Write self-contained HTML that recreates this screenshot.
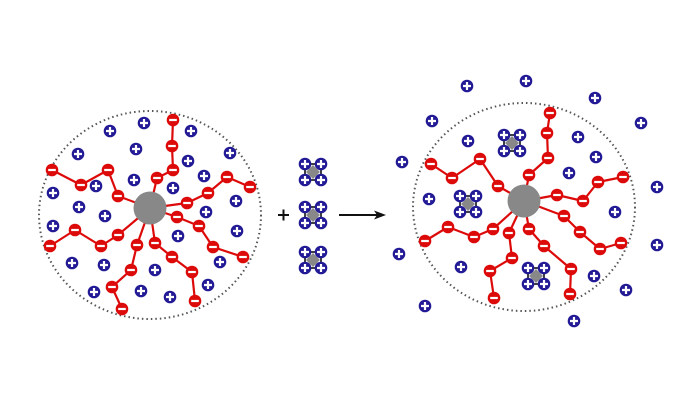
<!DOCTYPE html>
<html><head><meta charset="utf-8"><style>html,body{margin:0;padding:0;background:#fff}svg{display:block}</style></head>
<body>
<svg width="700" height="400" viewBox="0 0 700 400" xmlns="http://www.w3.org/2000/svg">
<defs>
<g id="p"><circle r="6.3" fill="#231a96"/><path d="M-4 0H4M0 -4V4" stroke="#fff" stroke-width="2.2"/></g>
<g id="m"><circle r="6.3" fill="#dd0a0a"/><path d="M-3.8 0H3.8" stroke="#fff" stroke-width="2.2"/></g>
<g id="c"><path d="M0 -7L7 0L0 7L-7 0Z" fill="#888"/><rect x="-8" y="-8" width="16" height="16" fill="none" stroke="#000" stroke-width="1.5"/>
<use href="#p" x="-8" y="-8"/><use href="#p" x="8" y="-8"/><use href="#p" x="-8" y="8"/><use href="#p" x="8" y="8"/></g>
</defs>
<!-- left micelle -->
<ellipse cx="150" cy="215" rx="111" ry="104" fill="none" stroke="#555" stroke-width="2" stroke-dasharray="1.5 3"/>
<g fill="none" stroke="#dd0a0a" stroke-width="2.2" stroke-linejoin="round">
<polyline points="150,208 157,178 173,170 172,146 173,120"/>
<polyline points="150,208 118,196 108,170 81,185 52,170"/>
<polyline points="150,208 187,203 208,193 227,177 250,187"/>
<polyline points="150,208 177,217 199,226 213,247 243,257"/>
<polyline points="150,208 155,243 172,257 192,272 195,301"/>
<polyline points="150,208 137,245 131,270 112,287 122,309"/>
<polyline points="150,208 118,235 101,246 75,230 50,246"/>
</g>
<circle cx="150" cy="208" r="16.5" fill="#888"/>
<g>
<use href="#m" x="157" y="178"/><use href="#m" x="173" y="170"/><use href="#m" x="172" y="146"/><use href="#m" x="173" y="120"/>
<use href="#m" x="118" y="196"/><use href="#m" x="108" y="170"/><use href="#m" x="81" y="185"/><use href="#m" x="52" y="170"/>
<use href="#m" x="187" y="203"/><use href="#m" x="208" y="193"/><use href="#m" x="227" y="177"/><use href="#m" x="250" y="187"/>
<use href="#m" x="177" y="217"/><use href="#m" x="199" y="226"/><use href="#m" x="213" y="247"/><use href="#m" x="243" y="257"/>
<use href="#m" x="155" y="243"/><use href="#m" x="172" y="257"/><use href="#m" x="192" y="272"/><use href="#m" x="195" y="301"/>
<use href="#m" x="137" y="245"/><use href="#m" x="131" y="270"/><use href="#m" x="112" y="287"/><use href="#m" x="122" y="309"/>
<use href="#m" x="118" y="235"/><use href="#m" x="101" y="246"/><use href="#m" x="75" y="230"/><use href="#m" x="50" y="246"/>
</g>
<g>
<use href="#p" x="110" y="131"/><use href="#p" x="144" y="123"/><use href="#p" x="78" y="154"/><use href="#p" x="136" y="149"/>
<use href="#p" x="191" y="131"/><use href="#p" x="230" y="153"/><use href="#p" x="188" y="161"/><use href="#p" x="96" y="186"/>
<use href="#p" x="53" y="193"/><use href="#p" x="79" y="207"/><use href="#p" x="105" y="216"/><use href="#p" x="134" y="180"/>
<use href="#p" x="173" y="188"/><use href="#p" x="204" y="176"/><use href="#p" x="206" y="212"/><use href="#p" x="236" y="201"/>
<use href="#p" x="53" y="226"/><use href="#p" x="178" y="236"/><use href="#p" x="237" y="231"/><use href="#p" x="72" y="263"/>
<use href="#p" x="104" y="265"/><use href="#p" x="155" y="270"/><use href="#p" x="220" y="262"/><use href="#p" x="94" y="292"/>
<use href="#p" x="141" y="291"/><use href="#p" x="170" y="297"/><use href="#p" x="208" y="285"/>
</g>
<!-- middle -->
<use href="#c" x="313" y="172"/><use href="#c" x="313" y="215"/><use href="#c" x="313" y="260"/>
<path d="M278 215H289M283.5 209.5V220.5" stroke="#111" stroke-width="2"/>
<path d="M339 215H378" stroke="#111" stroke-width="2"/>
<path d="M386 215L374 210.5L377 215L374 219.5Z" fill="#111"/>
<!-- right micelle -->
<ellipse cx="524" cy="207" rx="111" ry="104" fill="none" stroke="#555" stroke-width="2" stroke-dasharray="1.5 3"/>
<g fill="none" stroke="#dd0a0a" stroke-width="2.2" stroke-linejoin="round">
<polyline points="524,201 529,175 548,158 547,133 550,113"/>
<polyline points="524,201 498,186 480,159 452,178 431,164"/>
<polyline points="524,201 557,195 583,201 598,182 623,177"/>
<polyline points="524,201 564,216 580,232 600,249 621,243"/>
<polyline points="524,201 529,229 544,246 571,269 570,294"/>
<polyline points="524,201 509,233 512,258 490,271 494,298"/>
<polyline points="524,201 493,229 474,237 448,227 425,241"/>
</g>
<circle cx="524" cy="201" r="16.5" fill="#888"/>
<g>
<use href="#m" x="529" y="175"/><use href="#m" x="548" y="158"/><use href="#m" x="547" y="133"/><use href="#m" x="550" y="113"/>
<use href="#m" x="498" y="186"/><use href="#m" x="480" y="159"/><use href="#m" x="452" y="178"/><use href="#m" x="431" y="164"/>
<use href="#m" x="557" y="195"/><use href="#m" x="583" y="201"/><use href="#m" x="598" y="182"/><use href="#m" x="623" y="177"/>
<use href="#m" x="564" y="216"/><use href="#m" x="580" y="232"/><use href="#m" x="600" y="249"/><use href="#m" x="621" y="243"/>
<use href="#m" x="529" y="229"/><use href="#m" x="544" y="246"/><use href="#m" x="571" y="269"/><use href="#m" x="570" y="294"/>
<use href="#m" x="509" y="233"/><use href="#m" x="512" y="258"/><use href="#m" x="490" y="271"/><use href="#m" x="494" y="298"/>
<use href="#m" x="493" y="229"/><use href="#m" x="474" y="237"/><use href="#m" x="448" y="227"/><use href="#m" x="425" y="241"/>
</g>
<use href="#c" x="512" y="143"/><use href="#c" x="468" y="204"/><use href="#c" x="536" y="276"/>
<g>
<use href="#p" x="467" y="86"/><use href="#p" x="526" y="81"/><use href="#p" x="595" y="98"/><use href="#p" x="432" y="121"/>
<use href="#p" x="641" y="123"/><use href="#p" x="468" y="141"/><use href="#p" x="578" y="137"/><use href="#p" x="596" y="157"/>
<use href="#p" x="402" y="162"/><use href="#p" x="569" y="173"/><use href="#p" x="657" y="187"/><use href="#p" x="429" y="199"/>
<use href="#p" x="615" y="212"/><use href="#p" x="399" y="254"/><use href="#p" x="461" y="267"/><use href="#p" x="657" y="245"/>
<use href="#p" x="594" y="276"/><use href="#p" x="626" y="290"/><use href="#p" x="425" y="306"/><use href="#p" x="574" y="321"/>
</g>
</svg>
</body></html>
